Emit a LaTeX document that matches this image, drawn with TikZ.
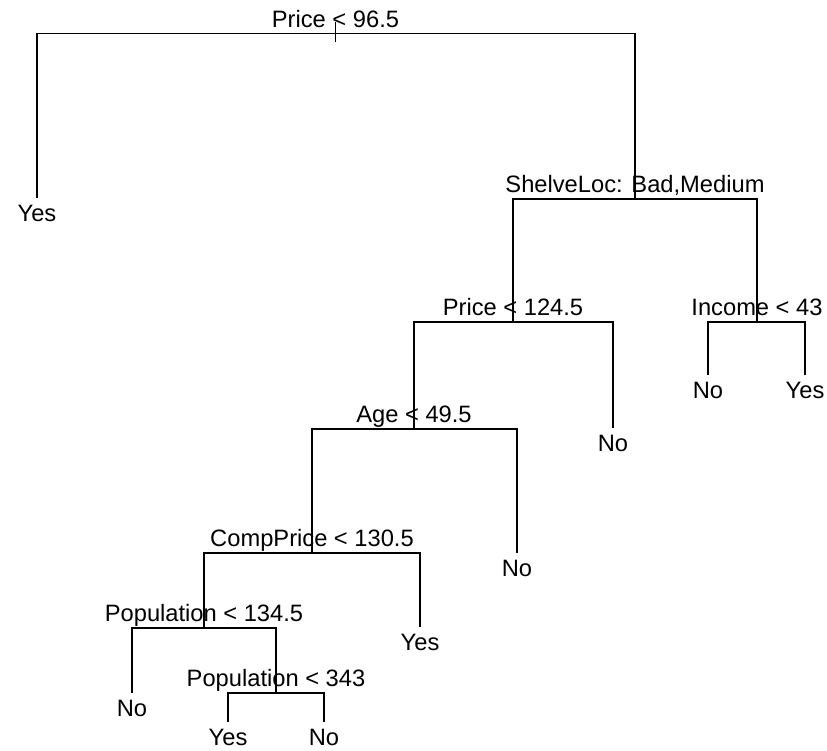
\documentclass[tikz,border=0pt]{standalone}
\usepackage{fontspec}
\setmainfont{Liberation Sans}
\usepackage{tikz}
\usetikzlibrary{positioning}
\tikzstyle{split}=[anchor=south,inner sep=0pt,text depth=6pt,font=\fontsize{23.7}{28}\selectfont]
\tikzstyle{leaf}=[anchor=north,inner sep=0pt,text height=23pt,text depth=0pt,font=\fontsize{23.7}{28}\selectfont]
\tikzstyle{branch}=[line width=1.1pt,black]

\begin{document}
\begin{tikzpicture}[x=1pt,y=-1pt]
\useasboundingbox (0,0) rectangle (827,750);
%\draw[step=50,gray,very thin] (0,0) grid (827,750);
\node[split] (s0) at (335.5,33.5) {Price < 96.5};
\node[leaf] (l0) at (37,198) {Yes};
\node[split] (s1) at (635,199) {ShelveLoc: Bad,Medium};
\node[split] (s2) at (513,322) {Price < 124.5};
\node[split] (s3) at (757,322) {Income < 43};
\node[leaf] (l3a) at (708,375) {No};
\node[leaf] (l3b) at (805,375) {Yes};
\node[split] (s4) at (414,429) {Age < 49.5};
\node[leaf] (l2) at (613,428) {No};
\node[split] (s5) at (312,553) {CompPrice < 130.5};
\node[leaf] (l4) at (517,553) {No};
\node[split] (s6) at (204,628) {Population < 134.5};
\node[leaf] (l5) at (420,627) {Yes};
\node[leaf] (l6) at (132,693) {No};
\node[split] (s7) at (276,693) {Population < 343};
\node[leaf] (l7a) at (228,722) {Yes};
\node[leaf] (l7b) at (324,722) {No};

\draw[branch] ([yshift=-8.5pt]s0.south) -- ([yshift=11.5pt]s0.south);
\draw[branch] (s0.south) -| (l0.north);
\draw[branch] (s0.south) -| (s1.south);
\draw[branch] (s1.south) -| (s2.south);
\draw[branch] (s1.south) -| (s3.south);
\draw[branch] (s3.south) -| (l3a.north);
\draw[branch] (s3.south) -| (l3b.north);
\draw[branch] (s2.south) -| (s4.south);
\draw[branch] (s2.south) -| (l2.north);
\draw[branch] (s4.south) -| (s5.south);
\draw[branch] (s4.south) -| (l4.north);
\draw[branch] (s5.south) -| (s6.south);
\draw[branch] (s5.south) -| (l5.north);
\draw[branch] (s6.south) -| (l6.north);
\draw[branch] (s6.south) -| (s7.south);
\draw[branch] (s7.south) -| (l7a.north);
\draw[branch] (s7.south) -| (l7b.north);

\end{tikzpicture}
\end{document}
